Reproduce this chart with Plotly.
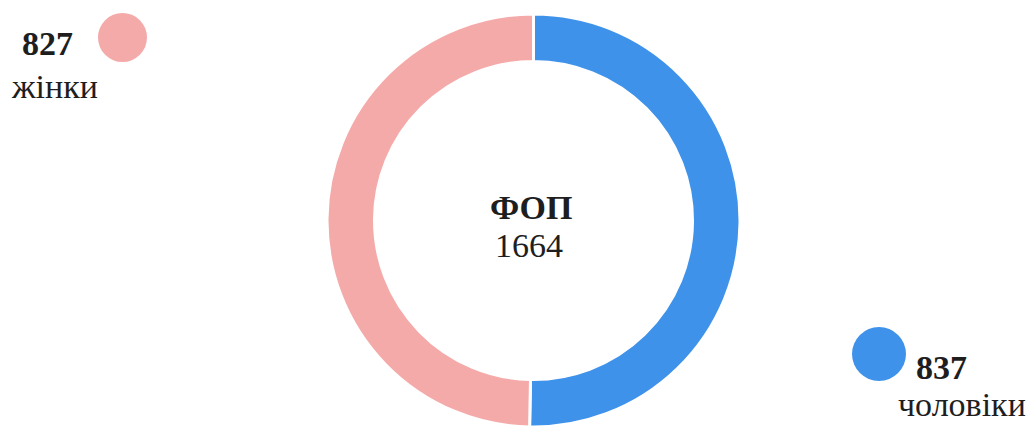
import plotly.graph_objects as go

# Sole proprietors (ФОП) by gender
labels = ["чоловіки", "жінки"]
values = [837, 827]
colors = ["#3f92ea", "#f5aaaa"]
center_title = "ФОП"

W, H = 1029, 427
FONT = "Liberation Serif, Times New Roman, serif"
total = sum(values)


def px(x):
    return x / W


def py(y):
    return 1 - y / H


fig = go.Figure(
    go.Pie(
        labels=labels,
        values=values,
        hole=0.77,
        sort=False,
        direction="clockwise",
        rotation=0,
        marker=dict(colors=colors, line=dict(color="white", width=3)),
        textinfo="none",
        hoverinfo="label+value",
        domain=dict(x=[px(533.5 - 208), px(533.5 + 208)], y=[0, py(14)]),
    )
)

# Legend-style labels with coloured dots
legend_items = [
    # (value index, dot centre, dot diameter, number left/baseline, label left/baseline)
    (1, (122.5, 37.5), 49, (20, 56), (9, 99)),
    (0, (879, 354), 54, (914, 380), (896, 417)),
]
shapes = []
annotations = []
size = 34
shift = 0.36 * size
for idx, (cx, cy), d, (nx, nb), (lx, lb) in legend_items:
    shapes.append(
        dict(
            type="circle",
            xref="paper",
            yref="paper",
            x0=px(cx - d / 2),
            x1=px(cx + d / 2),
            y0=py(cy + d / 2),
            y1=py(cy - d / 2),
            fillcolor=colors[idx],
            line=dict(width=0),
        )
    )
    annotations.append(
        dict(
            text=f"<b>{values[idx]}</b>",
            x=px(nx), y=py(nb - shift),
            xanchor="left", yanchor="middle",
        )
    )
    annotations.append(
        dict(
            text=labels[idx],
            x=px(lx), y=py(lb - shift),
            xanchor="left", yanchor="middle",
        )
    )

annotations.append(
    dict(text=f"<b>{center_title}</b>", x=px(531), y=py(220 - shift),
         xanchor="center", yanchor="middle")
)
annotations.append(
    dict(text=str(total), x=px(529), y=py(258 - shift),
         xanchor="center", yanchor="middle")
)

for a in annotations:
    a.update(xref="paper", yref="paper", showarrow=False,
             font=dict(family=FONT, size=size, color="#1e1e1e"))

fig.update_layout(
    width=W,
    height=H,
    margin=dict(l=0, r=0, t=0, b=0),
    paper_bgcolor="white",
    plot_bgcolor="white",
    showlegend=False,
    shapes=shapes,
    annotations=annotations,
)

fig.write_html("out.html")
